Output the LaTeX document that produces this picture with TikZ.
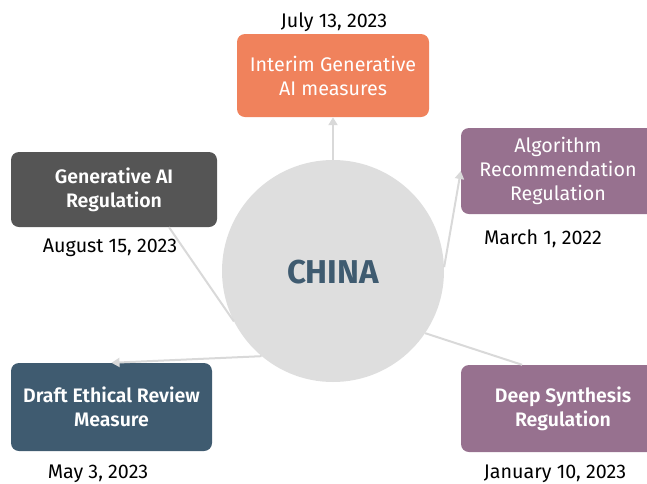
\documentclass[tikz,border=0pt]{standalone}
\usepackage{fontspec}
\setmainfont{Fira Sans}
\newfontfamily\semib{Fira Sans SemiBold}
\usetikzlibrary{arrows.meta,calc}
\definecolor{orng}{HTML}{F0825C}
\definecolor{dgray}{HTML}{555555}
\definecolor{purp}{HTML}{97718F}
\definecolor{bluec}{HTML}{3F5B70}
\definecolor{circ}{HTML}{DEDEDE}
\definecolor{linec}{HTML}{D9D9D9}
\tikzset{
  box/.style={rounded corners=8pt, inner sep=0pt, align=center, text=white, font=\fontsize{19.7}{24}\selectfont},
  sbox/.style={box, font=\semib\fontsize{19.5}{24}\selectfont},
  date/.style={inner sep=0pt, font=\fontsize{19.7}{22}\selectfont, text=black},
  conn/.style={draw=linec, line width=2pt},
  arr/.style={conn, -{Triangle[width=9pt,length=8pt]}}
}
\begin{document}
\begin{tikzpicture}[x=1pt,y=-1pt]
\useasboundingbox (0,0) rectangle (647,483);
\node[box, fill=orng, minimum width=192pt, minimum height=83pt] (interim) at (333,75.5) {Interim Generative\\AI measures};
\node[sbox, fill=dgray, minimum width=206pt, minimum height=75pt] (gen) at (114,189.5) {Generative AI\\Regulation};
\node[box, fill=purp, minimum width=194pt, minimum height=86pt] (alg) at (558,171) {Algorithm\\Recommendation\\Regulation};
\node[sbox, fill=bluec, minimum width=201pt, minimum height=88pt] (draft) at (111.5,407) {Draft Ethical Review\\Measure};
\node[sbox, fill=purp, minimum width=204pt, minimum height=87pt] (deep) at (563,408.5) {Deep Synthesis\\Regulation};
\node[circle, fill=circ, minimum size=222pt, inner sep=0pt] (c) at (333,271) {};
\node[text=bluec, font=\bfseries\fontsize{33}{36}\selectfont] (cn) at (333,272) {CHINA};
\draw[arr] (c.90) -- (interim.south);
\draw[arr] (c.2) -- (alg.west);
\draw[conn] (c.207) -- ($(gen.south)+(55,0)$);
\draw[arr] (c.230) -- (draft.north);
\draw[conn] (c.-34) -- ($(deep.north west)!0.3!(deep.north east)$);
\node[date] (d1) at (334,22) {July 13, 2023};
\node[date] (d2) at (110,248) {August 15, 2023};
\node[date] (d3) at (543,239) {March 1, 2022};
\node[date] (d4) at (98,474) {May 3, 2023};
\node[date] (d5) at (555,474) {January 10, 2023};
\end{tikzpicture}
\end{document}
